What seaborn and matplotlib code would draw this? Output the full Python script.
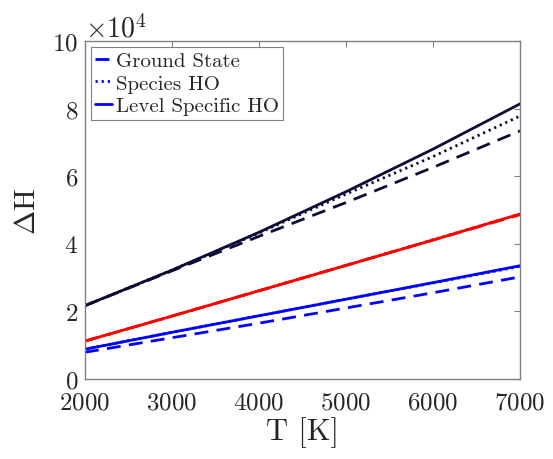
import numpy as np
import pandas as pd
import matplotlib
matplotlib.use("Agg")
import matplotlib.pyplot as plt
import seaborn as sns

# Data (values in units of 1e4, scaled to real values below)
T = [2000, 3000, 4000, 5000, 6000, 7000]
navy_ground = [2.17, 3.20, 4.22, 5.22, 6.26, 7.34]
navy_species = [2.17, 3.22, 4.32, 5.47, 6.58, 7.78]
navy_level = [2.17, 3.22, 4.34, 5.54, 6.80, 8.14]
red_ground = [1.12, 1.86, 2.61, 3.36, 4.11, 4.86]
red_species = [1.12, 1.86, 2.61, 3.36, 4.12, 4.88]
red_level = [1.12, 1.86, 2.61, 3.36, 4.11, 4.88]
blue_ground = [0.79, 1.22, 1.65, 2.10, 2.55, 3.02]
blue_species = [0.88, 1.38, 1.87, 2.36, 2.84, 3.33]
blue_level = [0.88, 1.38, 1.87, 2.36, 2.85, 3.35]

legend_labels = ["Ground State", "Species HO", "Level Specific HO"]

sns.set_theme(style="white")
plt.rcParams["font.family"] = ["cmr10", "DejaVu Serif"]
plt.rcParams["mathtext.fontset"] = "cm"
plt.rcParams["axes.formatter.use_mathtext"] = True
plt.rcParams["axes.unicode_minus"] = False

fig = plt.figure(figsize=(5.53, 4.60), dpi=100)
ax = fig.add_axes([0.1537, 0.174, 0.7866, 0.7347])

navy = "#0b0b35"
red = "#ff0000"
blue = "#0000ff"

rows = []
groups = [
    ("navy", navy_ground, navy_species, navy_level),
    ("red", red_ground, red_species, red_level),
    ("blue", blue_ground, blue_species, blue_level),
]
for g, gs, sp, lv in groups:
    for kind, vals in zip(legend_labels, (gs, sp, lv)):
        for t, v in zip(T, vals):
            rows.append({"T": t, "H": v * 1e4, "group": g, "kind": kind})
df = pd.DataFrame(rows)

colors = {"navy": navy, "red": red, "blue": blue}
styles = {"Ground State": (0, (5, 3)), "Species HO": (0, (0.8, 1.4)),
          "Level Specific HO": "-"}

handles = {}
for g in ["navy", "red", "blue"]:
    for kind in legend_labels:
        sub = df[(df.group == g) & (df.kind == kind)]
        sns.lineplot(data=sub, x="T", y="H", ax=ax, color=colors[g],
                     linewidth=2, linestyle=styles[kind], legend=False)
        line = ax.lines[-1]
        if g == "blue":
            handles[kind] = line

ax.set_xlim(2000, 7000)
ax.set_ylim(0, 1e5)
ax.set_xticks([2000, 3000, 4000, 5000, 6000, 7000])
ax.set_yticks([0, 2e4, 4e4, 6e4, 8e4, 1e5])
ax.ticklabel_format(axis="y", style="sci", scilimits=(4, 4), useMathText=True)
ax.ticklabel_format(axis="x", style="plain", useOffset=False)

ax.yaxis.get_offset_text().set_fontsize(20)
ax.yaxis.get_offset_text().set_color("#262626")

ax.tick_params(axis="both", which="both", direction="in", top=True, right=True,
               length=4, width=0.8, color="#808080", labelsize=18,
               labelcolor="#262626")
ax.tick_params(axis="x", pad=9)
ax.tick_params(axis="y", pad=5)
for s in ax.spines.values():
    s.set_color("#808080")
    s.set_linewidth(1.0)

ax.set_xlabel("T [K]", fontsize=22, color="#262626", labelpad=2)
ax.set_ylabel(r"$\Delta\mathrm{H}$", fontsize=21, color="#262626", labelpad=8)

leg = ax.legend([handles[k] for k in legend_labels], legend_labels,
                loc="upper left", fontsize=15, handlelength=0.8, handletextpad=0.2,
                borderaxespad=0.3, borderpad=0.2, labelspacing=0.2,
                frameon=True, fancybox=False, framealpha=1, edgecolor="#808080")
leg.get_frame().set_linewidth(0.8)

fig.savefig("out.png", dpi=100)
